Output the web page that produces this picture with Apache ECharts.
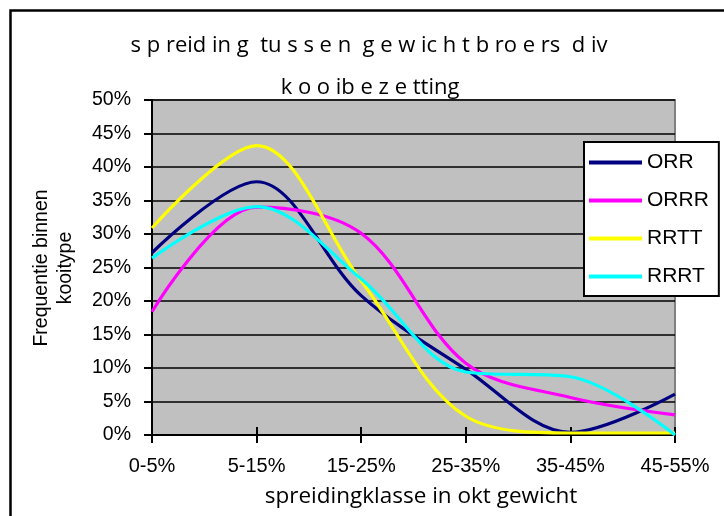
<!DOCTYPE html>
<html>
<head>
<meta charset="utf-8">
<script src="https://cdn.jsdelivr.net/npm/echarts@6/dist/echarts.min.js"></script>
<style>
html,body{margin:0;padding:0;background:#fff;}
#chart{width:724px;height:516px;}
</style>
</head>
<body>
<div id="chart"></div>
<script>
// Data
var categories = ['0-5%', '5-15%', '15-25%', '25-35%', '35-45%', '45-55%'];
var seriesNames = ['ORR', 'ORRR', 'RRTT', 'RRRT'];
var ORR  = [0.272, 0.378, 0.208, 0.098, 0.004, 0.061];
var ORRR = [0.184, 0.340, 0.301, 0.107, 0.056, 0.030];
var RRTT = [0.309, 0.432, 0.230, 0.028, 0.003, 0.003];
var RRRT = [0.264, 0.341, 0.233, 0.094, 0.087, 0.000];
var titleLine1 = 's p reid in g  tu s s e n  g e w ic h t b ro e rs  d iv';
var titleLine2 = 'k o o ib e z e tting';
var xTitle = 'spreidingklasse in okt gewicht';
var yTitle1 = 'Frequentie binnen';
var yTitle2 = 'kooitype';

var colors = ['#000080', '#FF00FF', '#FFFF00', '#00FFFF'];
var dataList = [ORR, ORRR, RRTT, RRRT];

var chart = echarts.init(document.getElementById('chart'), null, {renderer: 'canvas'});

var series = seriesNames.map(function (name, i) {
  return {
    name: name,
    type: 'line',
    data: dataList[i],
    smooth: 0.34,
    symbol: 'none',
    lineStyle: {color: colors[i], width: 3.2},
    itemStyle: {color: colors[i]},
    xAxisIndex: 0,
    yAxisIndex: 0,
    z: 3
  };
});

var option = {
  animation: false,
  backgroundColor: '#ffffff',
  grid: {
    left: 152, right: 49, top: 100, bottom: 81,
    show: true, backgroundColor: '#c0c0c0', borderColor: '#808080', borderWidth: 2
  },
  legend: {
    orient: 'vertical',
    left: 584, top: 142,
    data: seriesNames,
    icon: 'rect',
    itemWidth: 53, itemHeight: 4,
    itemGap: 17,
    padding: [10, 10, 9, 5],
    backgroundColor: '#ffffff',
    borderColor: '#000000', borderWidth: 2,
    textStyle: {fontFamily: 'Liberation Sans, Arial', fontSize: 21, color: '#000'}
  },
  xAxis: [{
    type: 'category',
    data: categories,
    boundaryGap: false,
    axisLine: {lineStyle: {color: '#000', width: 2}},
    axisTick: {show: true, length: 8, lineStyle: {color: '#000', width: 2}},
    axisLabel: {margin: 21, fontFamily: 'Liberation Sans, Arial', fontSize: 20, color: '#000'},
    splitLine: {show: false}
  }, {
    type: 'category',
    data: categories,
    boundaryGap: false,
    position: 'bottom',
    axisLine: {show: false},
    axisTick: {show: true, inside: true, length: 8, lineStyle: {color: '#000', width: 2}},
    axisLabel: {show: false},
    splitLine: {show: false}
  }],
  yAxis: [{
    type: 'value',
    min: 0, max: 0.5, interval: 0.05,
    axisLine: {show: true, lineStyle: {color: '#000', width: 2}},
    axisTick: {show: true, length: 8, lineStyle: {color: '#000', width: 2}},
    axisLabel: {
      margin: 21, fontFamily: 'Liberation Sans, Arial', fontSize: 19.5, color: '#000',
      formatter: function (v) { return Math.round(v * 100) + '%'; }
    },
    splitLine: {show: true, lineStyle: {color: '#000', width: 1.5}}
  }],
  series: series,
  graphic: [
    {type: 'rect', left: 8, top: 8, z: 100, silent: true,
     shape: {width: 800, height: 600}, style: {fill: 'none', stroke: '#000', lineWidth: 2.5}},
    {type: 'text', x: 369, y: 46, style: {text: titleLine1, fontFamily: 'Open Sans', fontSize: 22,
      fill: '#000', textAlign: 'center', textVerticalAlign: 'middle'}},
    {type: 'text', x: 370, y: 88, style: {text: titleLine2, fontFamily: 'Open Sans', fontSize: 22,
      fill: '#000', textAlign: 'center', textVerticalAlign: 'middle'}},
    {type: 'text', x: 421, y: 497, style: {text: xTitle, fontFamily: 'Open Sans', fontSize: 22.5,
      fill: '#000', textAlign: 'center', textVerticalAlign: 'middle'}},
    {type: 'text', x: 42, y: 268, rotation: Math.PI / 2, style: {text: yTitle1, fontFamily: 'Liberation Sans, Arial', fontSize: 19.5,
      fill: '#000', textAlign: 'center', textVerticalAlign: 'middle'}},
    {type: 'text', x: 66, y: 268, rotation: Math.PI / 2, style: {text: yTitle2, fontFamily: 'Liberation Sans, Arial', fontSize: 19.5,
      fill: '#000', textAlign: 'center', textVerticalAlign: 'middle'}}
  ]
};
chart.setOption(option);
</script>
</body>
</html>
